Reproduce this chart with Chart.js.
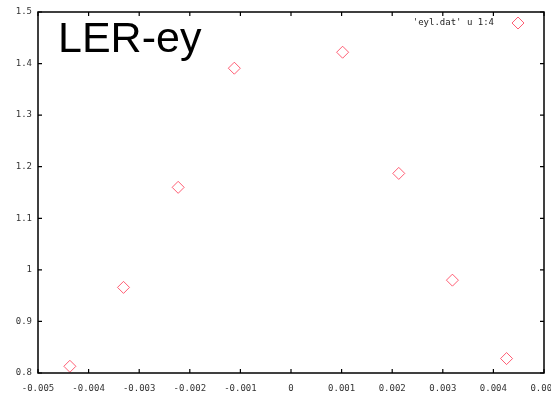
<!DOCTYPE html>
<html>
<head>
<meta charset="utf-8">
<script src="https://cdn.jsdelivr.net/npm/chart.js@4"></script>
<style>
  html, body { margin: 0; padding: 0; background: #fff; }
  #wrap { width: 551px; height: 396px; }
</style>
</head>
<body>
<div id="wrap"><canvas id="ler"></canvas></div>
<script>
// data
const xValues = [-0.00437, -0.00331, -0.00223, -0.00112, 0.00102, 0.00213, 0.00319, 0.00426];
const yValues = [0.813, 0.966, 1.160, 1.391, 1.422, 1.187, 0.980, 0.828];
const seriesLabel = "'eyl.dat' u 1:4";
const plotTitle = 'LER-ey';
const xRange = [-0.005, 0.005];
const yRange = [0.8, 1.5];

const markColor = 'rgba(255, 40, 70, 0.75)';
const tickFont = { family: 'DejaVu Sans Mono', size: 9 };

// gnuplot style frame with inward ticks, title and key
const framePlugin = {
    id: 'frame',
    afterDraw(chart) {
        const c = chart.ctx;
        const a = chart.chartArea;
        const xs = chart.scales.x, ys = chart.scales.y;
        c.save();
        c.strokeStyle = '#000';
        c.lineWidth = 1.5;
        c.strokeRect(a.left, a.top, a.right - a.left, a.bottom - a.top);
        c.lineWidth = 1.2;
        c.beginPath();
        xs.ticks.forEach(t => {
            const px = xs.getPixelForValue(t.value);
            c.moveTo(px, a.bottom); c.lineTo(px, a.bottom - 4);
            c.moveTo(px, a.top); c.lineTo(px, a.top + 4);
        });
        ys.ticks.forEach(t => {
            const py = ys.getPixelForValue(t.value);
            c.moveTo(a.left, py); c.lineTo(a.left + 4, py);
            c.moveTo(a.right, py); c.lineTo(a.right - 4, py);
        });
        c.stroke();

        // title
        c.fillStyle = '#000';
        c.font = '43px "Liberation Sans", Arial, sans-serif';
        c.textBaseline = 'alphabetic';
        c.textAlign = 'left';
        c.fillText(plotTitle, 58, 52);

        // key
        c.font = '9px "DejaVu Sans Mono", monospace';
        c.fillStyle = '#222';
        c.textAlign = 'right';
        c.textBaseline = 'middle';
        c.fillText(seriesLabel, 494, 23);
        c.strokeStyle = markColor;
        c.lineWidth = 1;
        c.beginPath();
        c.moveTo(518, 17); c.lineTo(524, 23); c.lineTo(518, 29); c.lineTo(512, 23); c.closePath();
        c.stroke();
        c.restore();
    }
};

new Chart(document.getElementById('ler'), {
    type: 'scatter',
    data: {
        datasets: [{
            label: seriesLabel,
            data: xValues.map((x, i) => ({ x: x, y: yValues[i] })),
            pointStyle: 'rectRot',
            pointRadius: 6,
            pointHoverRadius: 6,
            borderColor: markColor,
            backgroundColor: 'rgba(0,0,0,0)',
            borderWidth: 1,
            clip: false
        }]
    },
    options: {
        responsive: true,
        maintainAspectRatio: false,
        animation: false,
        events: [],
        layout: { padding: { top: 12, right: 6, left: 0, bottom: 0 } },
        plugins: {
            legend: { display: false },
            tooltip: { enabled: false }
        },
        scales: {
            x: {
                type: 'linear',
                min: xRange[0],
                max: xRange[1],
                grid: { display: false, drawTicks: false },
                border: { display: false },
                ticks: {
                    stepSize: 0.001,
                    autoSkip: false,
                    maxRotation: 0,
                    padding: 10,
                    color: '#333',
                    font: tickFont,
                    callback: v => String(Number(v.toFixed(3)))
                },
                afterFit(scale) {
                    scale.height = 23;
                    scale.paddingLeft = 0;
                    scale.paddingRight = 0;
                }
            },
            y: {
                min: yRange[0],
                max: yRange[1],
                grid: { display: false, drawTicks: false },
                border: { display: false },
                ticks: {
                    stepSize: 0.1,
                    autoSkip: false,
                    padding: 6,
                    color: '#333',
                    font: tickFont,
                    callback: v => String(Number(v.toFixed(1)))
                },
                afterFit(scale) {
                    scale.width = 38;
                    scale.paddingTop = 0;
                    scale.paddingBottom = 0;
                }
            }
        }
    },
    plugins: [framePlugin]
});
</script>
</body>
</html>
